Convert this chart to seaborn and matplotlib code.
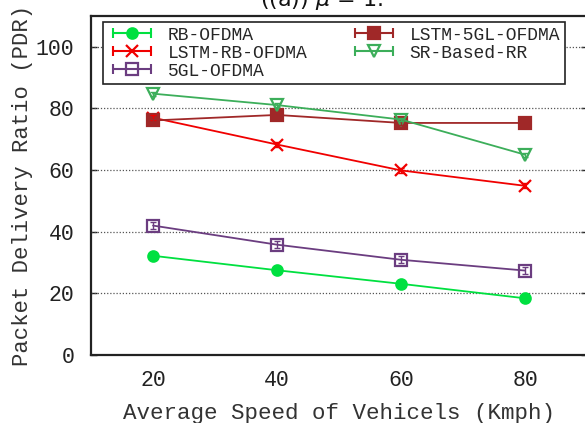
import numpy as np
import pandas as pd
import matplotlib
matplotlib.use("Agg")
import matplotlib.pyplot as plt
import seaborn as sns
from matplotlib.lines import Line2D
from matplotlib.legend_handler import HandlerLine2D, HandlerTuple

speeds = [20, 40, 60, 80]
rb_ofdma = [32.2, 27.5, 23.1, 18.4]
lstm_rb_ofdma = [77.0, 68.3, 59.9, 54.9]
gl5_ofdma = [42.0, 35.8, 30.9, 27.4]
lstm_5gl_ofdma = [76.1, 77.9, 75.3, 75.3]
sr_based_rr = [84.8, 81.1, 76.4, 65.0]
err_rb = [0.6, 0.6, 0.6, 1.2]
err_lstm_rb = [0.8, 0.8, 0.8, 0.8]
err_5gl = [1.2, 1.2, 1.2, 1.2]
err_lstm_5gl = [0.6, 0.6, 0.6, 0.6]
err_sr = [0.6, 0.6, 0.6, 0.6]
names = ["RB-OFDMA", "LSTM-RB-OFDMA", "5GL-OFDMA", "LSTM-5GL-OFDMA", "SR-Based-RR"]
yticks = [0, 20, 40, 60, 80, 100]

series = [rb_ofdma, lstm_rb_ofdma, gl5_ofdma, lstm_5gl_ofdma, sr_based_rr]
errs = [err_rb, err_lstm_rb, err_5gl, err_lstm_5gl, err_sr]
colors = ["#00e040", "#f00000", "#6b3d80", "#a02828", "#3cae5a"]
markers = ["o", "x", "s", "s", "v"]
mfc = ["#00e040", "#f00000", "none", "#a02828", "none"]
msize = [7.5, 8, 8, 8, 8]

df = pd.DataFrame({
    "speed": speeds * len(names),
    "pdr": sum(series, []),
    "err": sum(errs, []),
    "method": sum([[n] * len(speeds) for n in names], []),
})

sns.set_style("white")
plt.rcParams["font.family"] = ["Liberation Mono", "DejaVu Sans Mono"]

fig = plt.figure(figsize=(5.85, 4.23), dpi=100)
ax = fig.add_axes([91 / 585, 1 - 355 / 423, 496 / 585, (355 - 16) / 423])

handles = []
for i, n in enumerate(names):
    sub = df[df.method == n]
    sns.lineplot(data=sub, x="speed", y="pdr", ax=ax, color=colors[i], lw=1.3,
                 marker=markers[i], markersize=msize[i], markerfacecolor=mfc[i],
                 markeredgecolor=colors[i], markeredgewidth=1.6, legend=False, zorder=3)
    ax.errorbar(sub.speed, sub.pdr, yerr=sub.err, fmt="none", ecolor=colors[i],
                elinewidth=1.0, capsize=2.5, zorder=4)
    capline = Line2D([], [], color=colors[i], lw=1.5, marker="|", markersize=7,
                     markeredgewidth=1.5)
    mk = Line2D([], [], color=colors[i], lw=0, marker=markers[i], markersize=msize[i],
                markerfacecolor=mfc[i], markeredgecolor=colors[i], markeredgewidth=1.6)
    handles.append((capline, mk))

hmap = {}
for cl, mk in handles:
    hmap[cl] = HandlerLine2D(numpoints=2)
    hmap[mk] = HandlerLine2D(numpoints=1)
leg = ax.legend(handles=handles, labels=names, handler_map=hmap, ncol=2,
                loc="upper left", bbox_to_anchor=(0.024, 0.982), fontsize=13,
                handlelength=2.7, handletextpad=0.65, columnspacing=2.3,
                labelspacing=0.06, borderpad=0.25, borderaxespad=0, frameon=True,
                fancybox=False, framealpha=1)
leg.get_frame().set_edgecolor("#222222")
leg.get_frame().set_linewidth(1.2)

ax.set_xlim(10, 90)
ax.set_ylim(0, 110)
ax.set_xticks(speeds)
ax.set_yticks(yticks)
ax.set_xticklabels([str(s) for s in speeds])
ax.set_yticklabels([str(t) for t in yticks])
ax.tick_params(axis="y", direction="in", length=4, width=1, pad=12, labelsize=15.5,
               colors="#222222", right=True, left=True)
ax.tick_params(axis="x", length=0, pad=11, labelsize=15.5, colors="#222222")
for t in yticks[1:]:
    ax.axhline(t, color="#555555", lw=0.9, ls=(0, (1, 1.5)), zorder=1)
for s in ax.spines.values():
    s.set_color("#222222")
    s.set_linewidth(1.6)
ax.set_xlabel("Average Speed of Vehicels (Kmph)", fontsize=16.2, color="#333333",
              labelpad=8.5)
ax.set_ylabel("Packet Delivery Ratio (PDR)", fontsize=16, color="#333333",
              labelpad=2)
fig.text(322 / 585, 1 - 6 / 423, r"((a)) $\mu$ = 1.", ha="center", va="baseline",
         fontsize=16, family="DejaVu Sans", color="#111111")

fig.savefig("out.png", dpi=100)
